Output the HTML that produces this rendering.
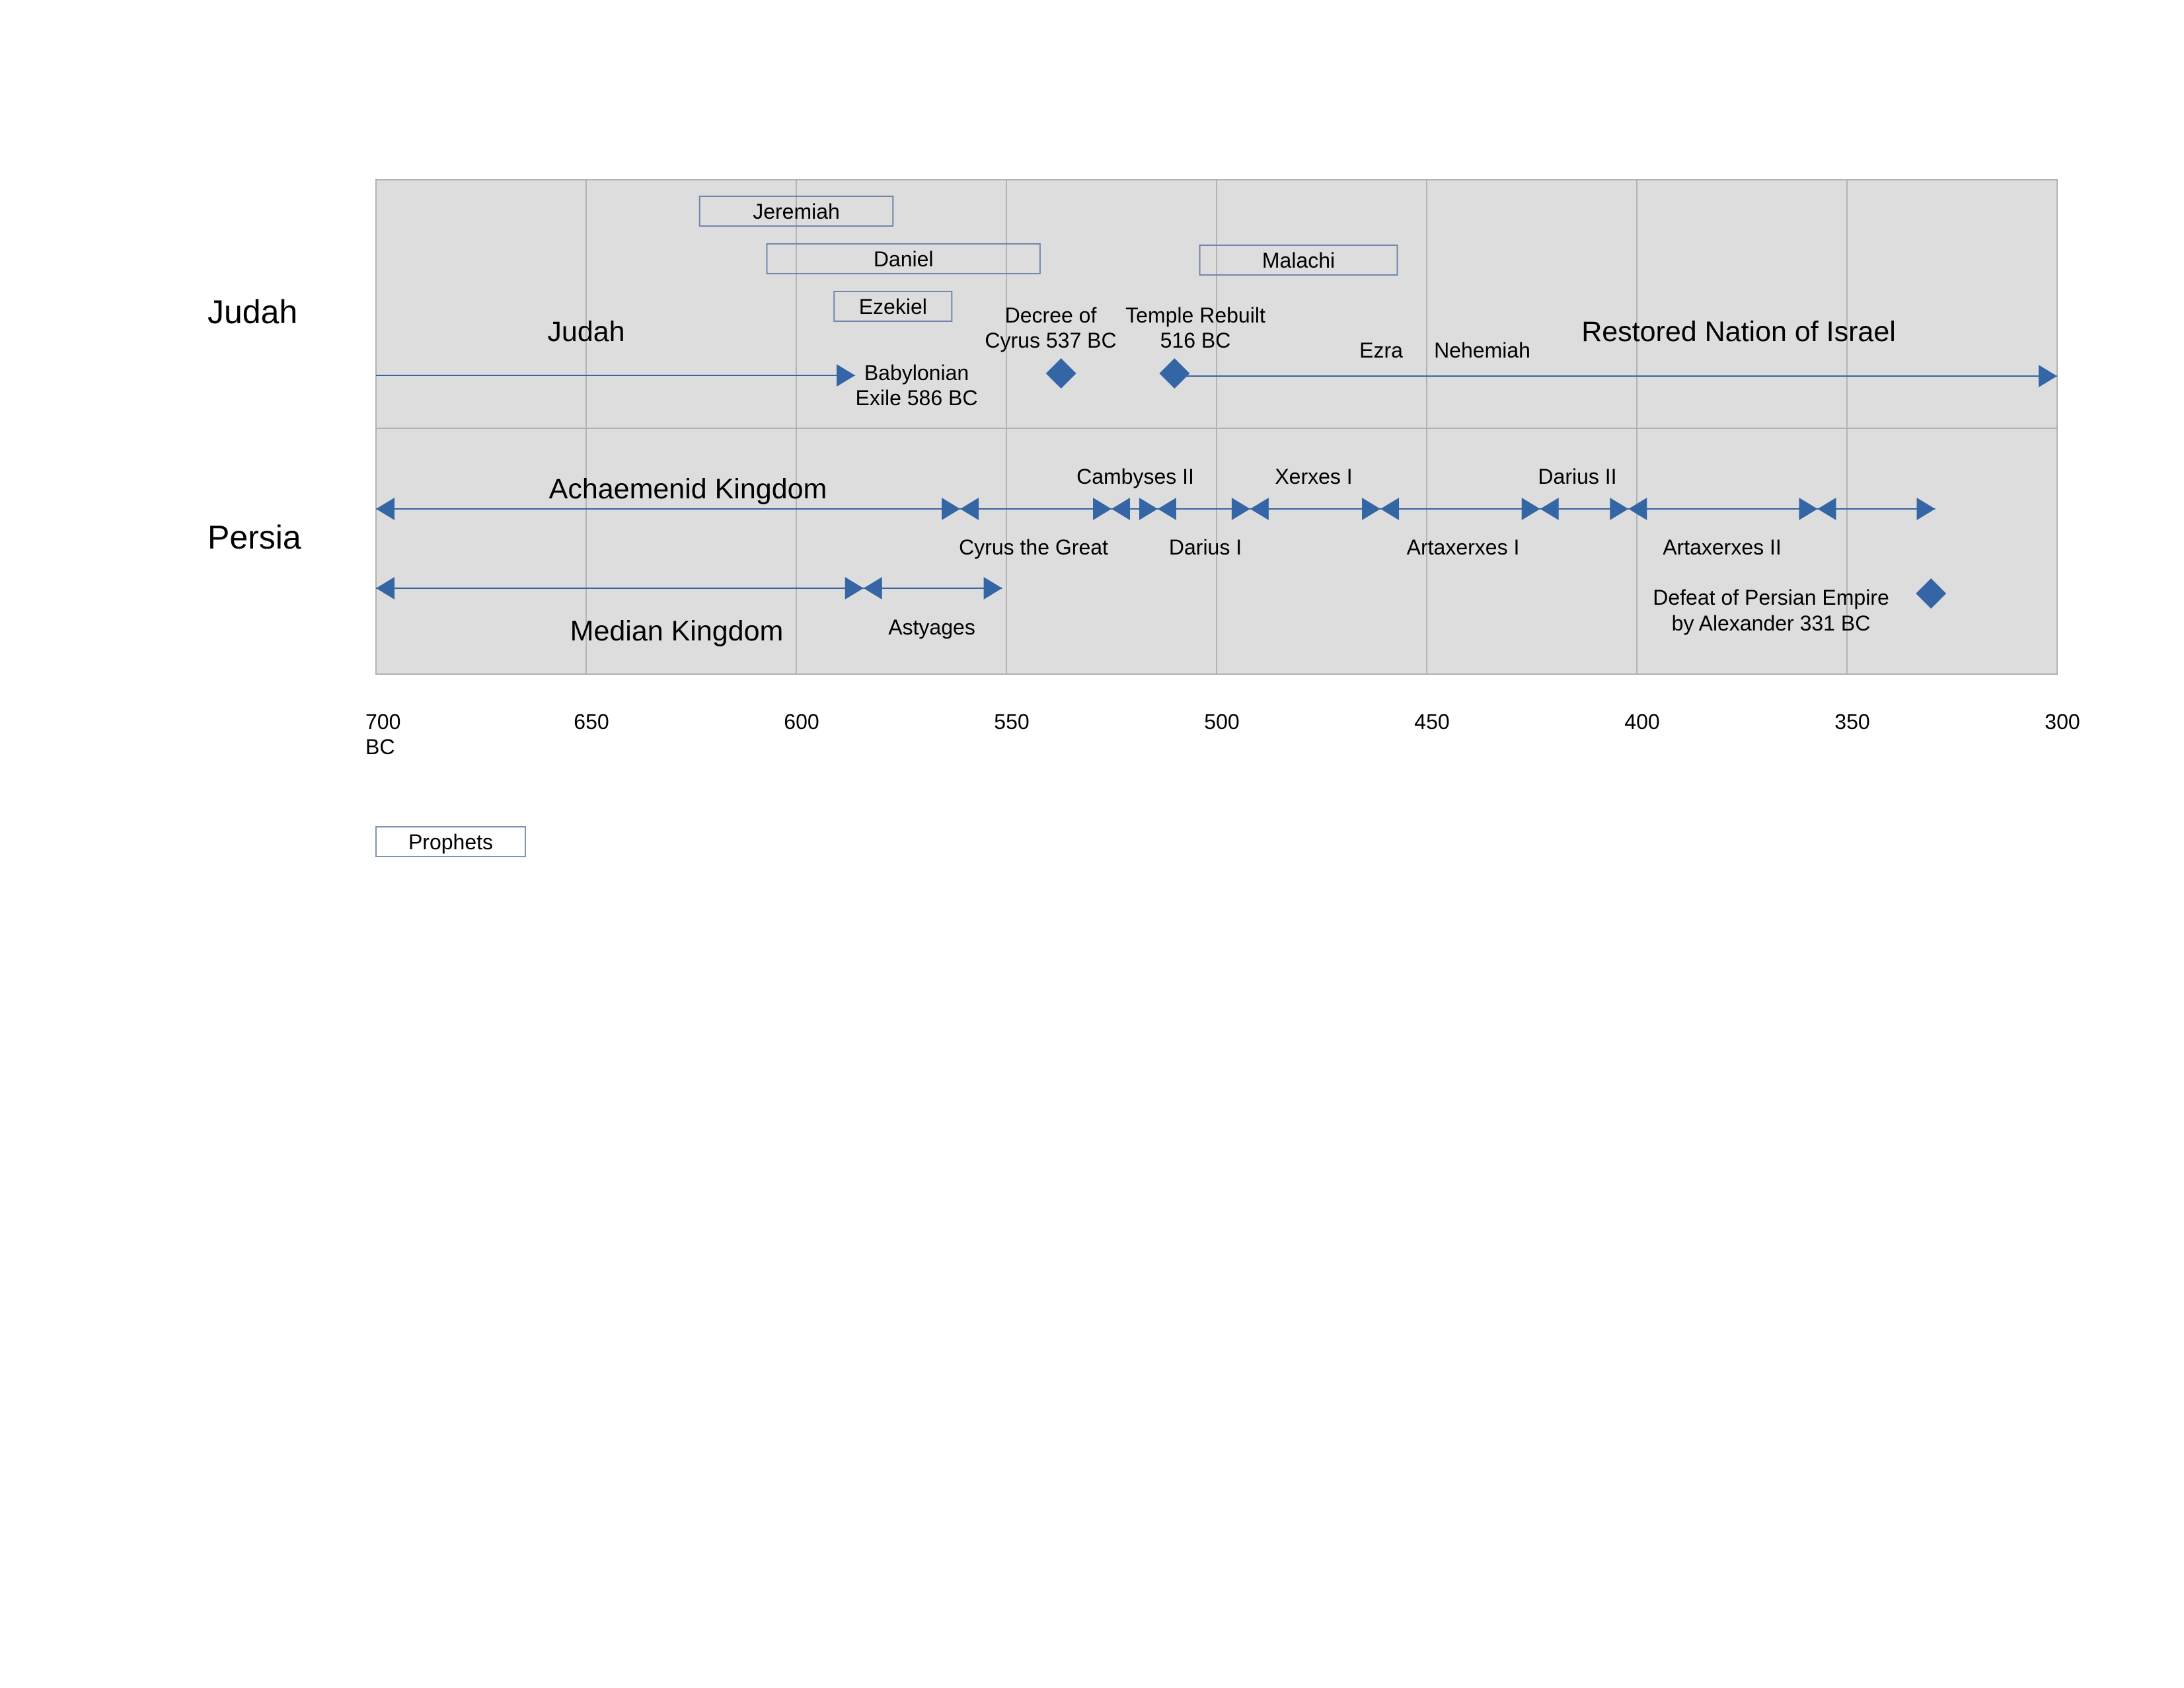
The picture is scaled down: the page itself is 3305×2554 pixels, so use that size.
<!DOCTYPE html>
<html><head><meta charset="utf-8"><style>
html,body{margin:0;padding:0;background:#fff;}
svg{display:block;font-family:"Liberation Sans",sans-serif;}
</style></head><body>
<svg id="chart" width="3305" height="2554" viewBox="0 0 3305 2554" xmlns="http://www.w3.org/2000/svg">
<rect x="569" y="272" width="2544" height="748" fill="#dddddd" stroke="#b3b3b3" stroke-width="2"/>
<g id="grid"></g>
<line x1="569" y1="648" x2="3113" y2="648" stroke="#b3b3b3" stroke-width="2"/>
<g id="marks"></g>
<g id="labels" font-size="32" fill="#000" text-anchor="middle" dominant-baseline="central"></g>
<text x="314" y="472" font-size="50" dominant-baseline="central">Judah</text>
<text x="314" y="813" font-size="50" dominant-baseline="central">Persia</text>
<rect x="569" y="1251" width="226" height="45" fill="#fff" stroke="#7f93b3" stroke-width="2"/>
<text x="682" y="1274" font-size="32" text-anchor="middle" dominant-baseline="central">Prophets</text>
</svg>
<script>
const tickYears=[700,650,600,550,500,450,400,350,300];
const tickLabels=["700","650","600","550","500","450","400","350","300"];
const prophetNames=["Jeremiah","Daniel","Ezekiel","Malachi"];
const prophetStart=[623,607,591,504];
const prophetEnd=[577,542,563,457];
const prophetRowY=[297,369,441,371];
const judahSegStart=[700,510];
const judahSegEnd=[586,300];
const judahEvents=[537,510];
const persiaSegStart=[700,561,525,514,492,461,423,402,357];
const persiaSegEnd=[561,525,514,492,461,423,402,357,329];
const medianSegStart=[700,584];
const medianSegEnd=[584,551];
const defeatYear=[330];

const NS="http://www.w3.org/2000/svg";
const X0=569, PX=2544/400;
function xs(yr){return X0+(700-yr)*PX;}
function mk(tag,attrs,parent){const e=document.createElementNS(NS,tag);for(const k in attrs)e.setAttribute(k,attrs[k]);parent.appendChild(e);return e;}
const grid=document.getElementById('grid'), marks=document.getElementById('marks'), labels=document.getElementById('labels');
const svg=document.getElementById('chart');
const BLUE="#3465a4";

tickYears.forEach((y,i)=>{
  if(i>0&&i<tickYears.length-1){
    const g=mk('line',{x1:xs(y),x2:xs(y),y1:272,y2:1020,stroke:'#b3b3b3','stroke-width':2},grid);
    
    
  }
  const t=mk('text',{x:xs(y)+(i==0?-16:8),y:1092,'font-size':32,'text-anchor':i==0?'start':'middle','dominant-baseline':'central'},svg);
  t.textContent=tickLabels[i];
  
  
});
const bc=mk('text',{x:553,y:1130,'font-size':32,'dominant-baseline':'central'},svg);
bc.textContent="BC";



prophetNames.forEach((n,i)=>{
  const x1=xs(prophetStart[i]),x2=xs(prophetEnd[i]);
  const r=mk('rect',{x:x1,y:prophetRowY[i],width:x2-x1,height:45,fill:'none',stroke:'#6f87ad','stroke-width':2},marks);
  
  
  const t=mk('text',{x:(x1+x2)/2,y:prophetRowY[i]+23},labels);
  t.textContent=n;
  
  
});

function tri(x,y,dir,name){
  const w=28,h=17;
  const pts=dir>0?`${x},${y} ${x-w},${y-h} ${x-w},${y+h}`:`${x},${y} ${x+w},${y-h} ${x+w},${y+h}`;
  const p=mk('polygon',{points:pts,fill:BLUE},marks);
  
  
}
function diamond(x,y,name){
  const p=mk('polygon',{points:`${x},${y-23} ${x+23},${y} ${x},${y+23} ${x-23},${y}`,fill:BLUE},marks);
  
  
}
function seg(s,e,y,name,startArrow,endArrow){
  const l=mk('line',{x1:xs(s),x2:xs(e),y1:y,y2:y,stroke:BLUE,'stroke-width':2},marks);
  
  
  if(startArrow)tri(xs(s),y,-1,name+'-start-arrow');
  if(endArrow)tri(xs(e),y,1,name+'-end-arrow');
}
seg(judahSegStart[0],judahSegEnd[0],568,'judah-line',false,true);
seg(judahSegStart[1],judahSegEnd[1],569,'restored-israel-line',false,true);
diamond(xs(judahEvents[0]),565,'decree-of-cyrus-marker');
diamond(xs(judahEvents[1]),565,'temple-rebuilt-marker');
persiaSegStart.forEach((s,i)=>seg(s,persiaSegEnd[i],770,'persia-segment-'+i,true,true));
medianSegStart.forEach((s,i)=>seg(s,medianSegEnd[i],890,'median-segment-'+i,true,true));
diamond(xs(defeatYear[0]),898,'defeat-persia-marker');

const txt=[
 ["Judah",887,502,43],["Restored Nation of Israel",2631,502,43],["Ezra",2090,530,32],["Nehemiah",2243,530,32],
 ["Decree of",1590,477,32],["Cyrus 537 BC",1590,515,32],["Temple Rebuilt",1809,477,32],["516 BC",1809,515,32],
 ["Babylonian",1387,564,32],["Exile 586 BC",1387,602,32],["Achaemenid Kingdom",1041,740,43],
 ["Cambyses II",1718,721,32],["Xerxes I",1988,721,32],["Darius II",2387,721,32],
 ["Cyrus the Great",1564,828,32],["Darius I",1824,828,32],["Artaxerxes I",2214,828,32],["Artaxerxes II",2606,828,32],
 ["Median Kingdom",1024,955,43],["Astyages",1410,949,32],["Defeat of Persian Empire",2680,904,32],["by Alexander 331 BC",2680,943,32]
];
txt.forEach(a=>{
  const t=mk('text',{x:a[1],y:a[2],'font-size':a[3]},labels);
  t.textContent=a[0];
  
  
});
</script>
</body></html>
